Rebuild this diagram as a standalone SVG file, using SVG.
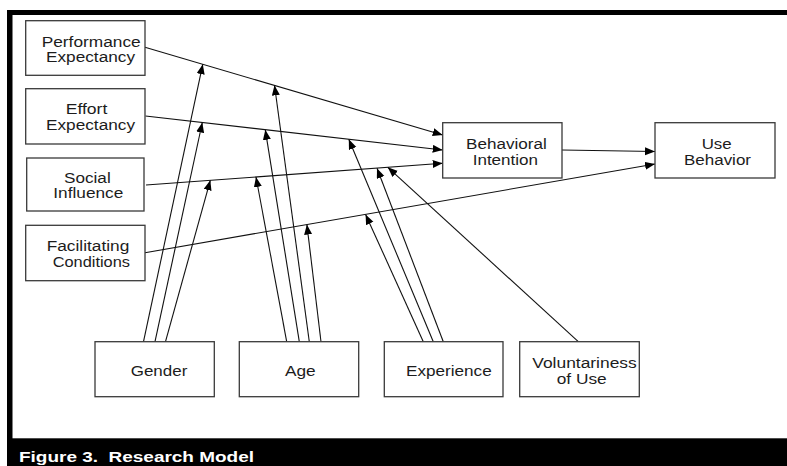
<svg xmlns="http://www.w3.org/2000/svg" width="787" height="466" viewBox="0 0 787 466">
<style>
.box{fill:#fff;stroke:#3a3a3a;stroke-width:1.3}
.t{font-family:"Liberation Sans",Arial,sans-serif;font-size:14px;fill:#1c1c1c}
.c{fill:none;stroke:#111;stroke-width:1.1;marker-end:url(#ah)}
.cap{font-family:"Liberation Sans",Arial,sans-serif;font-size:14px;font-weight:bold;fill:#fff;white-space:pre}
</style>
<defs>
<marker id="ah" markerUnits="userSpaceOnUse" markerWidth="11" markerHeight="9" refX="10" refY="4" orient="auto">
<path d="M0,0 L10,4 L0,8 z" fill="#000"/>
</marker>
</defs>
<rect x="0" y="0" width="787" height="466" fill="#fff"/>
<g id="frame">
<rect x="7" y="10" width="780" height="5" fill="#000"/>
<rect x="7" y="10" width="5.5" height="456" fill="#000"/>
<rect x="7" y="438.3" width="780" height="27.7" fill="#000"/>
<text class="cap" x="19" y="462" textLength="235" lengthAdjust="spacingAndGlyphs">Figure 3.  Research Model</text>
</g>
<g id="connectors">
<path class="c" d="M145,47.3 L442.7,135"/>
<path class="c" d="M145.5,116 L442.7,150"/>
<path class="c" d="M146,185 L442.7,163.3"/>
<path class="c" d="M145,252.7 L655,164"/>
<path class="c" d="M562,150 L655,151.5"/>
<path class="c" d="M143.5,341.7 L202.8,64.2"/>
<path class="c" d="M155,341.7 L202.3,122.5"/>
<path class="c" d="M165.5,341.7 L210.3,180.3"/>
<path class="c" d="M286.7,341.7 L256,177"/>
<path class="c" d="M299.3,341.7 L265.3,129.8"/>
<path class="c" d="M309.3,341.7 L274.5,85.3"/>
<path class="c" d="M321,341.7 L306.9,224.6"/>
<path class="c" d="M423.3,341.7 L365.6,214.4"/>
<path class="c" d="M433.3,341.7 L348.8,139.3"/>
<path class="c" d="M443.3,341.7 L377,168.2"/>
<path class="c" d="M578.3,341.7 L387.8,167.3"/>
</g>
<g id="performance-expectancy">
<rect class="box" x="25.7" y="20.7" width="119.3" height="54.6"/>
<text class="t" x="41.7" y="46.7" textLength="99" lengthAdjust="spacingAndGlyphs">Performance</text>
<text class="t" x="46" y="62.3" textLength="89" lengthAdjust="spacingAndGlyphs">Expectancy</text>
</g>
<g id="effort-expectancy">
<rect class="box" x="25.7" y="88.7" width="119.3" height="55.3"/>
<text class="t" x="65.7" y="114.3" textLength="41.6" lengthAdjust="spacingAndGlyphs">Effort</text>
<text class="t" x="46" y="130" textLength="89" lengthAdjust="spacingAndGlyphs">Expectancy</text>
</g>
<g id="social-influence">
<rect class="box" x="26.7" y="158" width="117.3" height="53"/>
<text class="t" x="64" y="182.7" textLength="46.7" lengthAdjust="spacingAndGlyphs">Social</text>
<text class="t" x="53.3" y="198.3" textLength="70" lengthAdjust="spacingAndGlyphs">Influence</text>
</g>
<g id="facilitating-conditions">
<rect class="box" x="25.7" y="225.3" width="119.3" height="55.4"/>
<text class="t" x="46.7" y="251.3" textLength="82.6" lengthAdjust="spacingAndGlyphs">Facilitating</text>
<text class="t" x="52.7" y="266.9" textLength="77.3" lengthAdjust="spacingAndGlyphs">Conditions</text>
</g>
<g id="behavioral-intention">
<rect class="box" x="442.7" y="122.7" width="119.3" height="55.3"/>
<text class="t" x="466" y="149" textLength="80.7" lengthAdjust="spacingAndGlyphs">Behavioral</text>
<text class="t" x="472.7" y="164.7" textLength="65.3" lengthAdjust="spacingAndGlyphs">Intention</text>
</g>
<g id="use-behavior">
<rect class="box" x="655" y="122.7" width="120" height="55.3"/>
<text class="t" x="701.7" y="149" textLength="30" lengthAdjust="spacingAndGlyphs">Use</text>
<text class="t" x="684" y="164.7" textLength="67" lengthAdjust="spacingAndGlyphs">Behavior</text>
</g>
<g id="gender">
<rect class="box" x="95" y="341.7" width="119.3" height="55"/>
<text class="t" x="130.7" y="375.7" textLength="56.6" lengthAdjust="spacingAndGlyphs">Gender</text>
</g>
<g id="age">
<rect class="box" x="239.3" y="341.7" width="119.4" height="55"/>
<text class="t" x="285" y="375.7" textLength="30.7" lengthAdjust="spacingAndGlyphs">Age</text>
</g>
<g id="experience">
<rect class="box" x="384.3" y="341.7" width="118.7" height="55"/>
<text class="t" x="406" y="375.7" textLength="85.7" lengthAdjust="spacingAndGlyphs">Experience</text>
</g>
<g id="voluntariness-of-use">
<rect class="box" x="519.7" y="341.7" width="119.6" height="55"/>
<text class="t" x="532.3" y="367.7" textLength="104.4" lengthAdjust="spacingAndGlyphs">Voluntariness</text>
<text class="t" x="556.7" y="383.5" textLength="50" lengthAdjust="spacingAndGlyphs">of Use</text>
</g>
</svg>
